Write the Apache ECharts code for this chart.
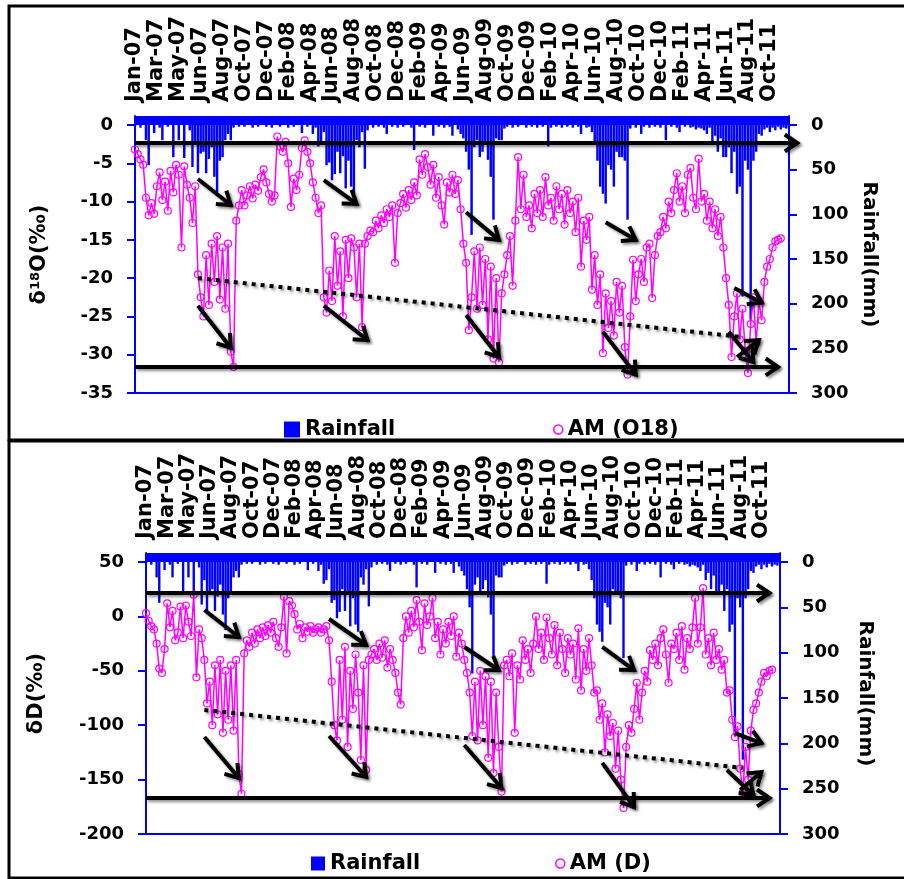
<!DOCTYPE html>
<html>
<head>
<meta charset="utf-8">
<script src="https://cdn.jsdelivr.net/npm/echarts@6.0.0/dist/echarts.min.js"></script>
<style>
  html, body { margin: 0; padding: 0; background: #fff; }
  #chart { width: 904px; height: 879px; }
</style>
</head>
<body>
<div id="chart"></div>
<script>
// every 8th sample gets one of these labels (top axis)
const tickLabels = ["Jan-07", "Mar-07", "May-07", "Jun-07", "Aug-07", "Oct-07", "Dec-07", "Feb-08", "Apr-08", "Jun-08",
  "Aug-08", "Oct-08", "Dec-08", "Feb-09", "Apr-09", "Jun-09", "Aug-09", "Oct-09", "Dec-09", "Feb-10",
  "Apr-10", "Jun-10", "Aug-10", "Oct-10", "Dec-10", "Feb-11", "Apr-11", "Jun-11", "Aug-11", "Oct-11"];

const o18Ticks = [-35, -30, -25, -20, -15, -10, -5, 0];
const dTicks = [-200, -150, -100, -50, 0, 50];
const rainTicks = [0, 50, 100, 150, 200, 250, 300];

// rainfall (mm), same record in both panels
const rainfall = [
  2, 0, 3, 0, 17, 45, 0, 9,        0, 3, 17, 0, 2, 0, 36, 0,
  17, 0, 37, 0, 6, 47, 20, 54,     32, 30, 54, 38, 25, 58, 75, 40,
  36, 17, 10, 17, 3, 0, 2, 0,      2, 0, 0, 3, 0, 2, 0, 0,
  2, 0, 3, 0, 0, 2, 0, 0,          3, 0, 2, 0, 0, 9, 0, 2,
  0, 10, 3, 24, 20, 8, 45, 42,     62, 55, 30, 54, 35, 71, 40, 69,
  77, 17, 25, 8, 49, 6, 0, 3,      0, 2, 0, 3, 10, 0, 2, 0,
  3, 0, 2, 0, 0, 3, 28, 0,         2, 0, 3, 0, 0, 12, 0, 2,
  0, 3, 0, 2, 12, 0, 5, 10,        15, 30, 50, 123, 25, 17, 36, 30,
  20, 39, 58, 106, 15, 17, 17, 4,  2, 0, 3, 0, 2, 0, 0, 3,
  0, 2, 0, 3, 0, 2, 0, 24,         3, 0, 2, 0, 3, 0, 2, 0,
  3, 0, 2, 10, 0, 3, 2, 8,         20, 40, 69, 77, 88, 45, 50, 69,
  30, 36, 36, 40, 106, 4, 0, 3,    0, 10, 2, 0, 3, 0, 2, 0,
  3, 0, 17, 0, 2, 0, 3, 8,         0, 2, 0, 3, 2, 5, 3, 4,
  6, 10, 3, 20, 12, 30, 15, 36,    36, 25, 54, 30, 77, 69, 192, 40,
  50, 218, 40, 30, 10, 12, 5, 3,   8, 3, 6, 2, 5, 3, 4, 2
];

// AM delta 18O (per mil)
const amO18 = [
  -3.2, -3.8, -4.5, -5.2, -9.5, -11.8, -10.2, -11.6,   -8.0, -6.2, -9.8, -7.4, -11.2, -6.0, -8.8, -5.2,
  -6.5, -16.0, -5.4, -7.8, -9.5, -12.8, -8.0, -19.5,   -22.5, -25.0, -17.0, -23.5, -15.5, -20.5, -14.5, -22.8,
  -16.0, -24.0, -15.5, -29.6, -31.6, -12.5, -10.5, -8.5, -10.5, -9.2, -8.0, -9.6, -7.8, -8.6, -6.8, -5.8,
  -7.5, -9.0, -10.0, -9.2, -1.5, -2.8, -3.5, -2.2,     -5.0, -10.7, -7.0, -8.5, -6.5, -3.0, -2.0, -3.5,
  -5.0, -7.5, -9.5, -11.5, -10.5, -22.5, -24.5, -19.0, -23.0, -14.5, -21.0, -16.5, -25.0, -15.0, -20.0, -14.8,
  -16.0, -22.5, -15.5, -26.4, -15.5, -14.5, -13.8, -14.0, -12.5, -13.5, -11.8, -12.8, -11.0, -12.0, -10.5, -18.0,
  -11.5, -10.2, -9.0, -10.8, -8.5, -9.8, -7.5, -9.2,   -4.5, -6.5, -3.8, -5.5, -7.8, -5.2, -9.5, -6.8,
  -10.5, -13.0, -7.5, -8.8, -6.5, -9.0, -7.2, -11.0,   -15.5, -18.0, -26.8, -22.5, -16.5, -24.0, -16.0, -23.5,
  -17.5, -28.0, -18.5, -30.5, -20.0, -31.0, -22.0, -19.5, -17.0, -14.5, -21.0, -12.5, -4.2, -11.0, -6.5, -12.0,
  -10.5, -13.5, -9.0, -11.5, -8.5, -12.0, -6.8, -10.5, -9.5, -12.5, -8.0, -11.0, -9.0, -13.0, -8.5, -11.5,
  -10.0, -14.0, -9.5, -18.5, -12.5, -15.0, -12.0, -21.5, -17.0, -23.5, -19.5, -29.8, -22.0, -26.5, -23.0, -27.5,
  -20.5, -24.5, -21.0, -29.0, -32.6, -25.0, -17.6, -23.0, -19.5, -17.5, -20.5, -16.0, -15.5, -22.6, -17.0, -14.5,
  -14.0, -12.0, -13.5, -10.0, -11.5, -8.5, -6.3, -10.0, -8.0, -11.5, -6.5, -5.6, -9.5, -11.0, -4.4, -10.0,
  -9.0, -12.5, -10.0, -13.5, -11.0, -14.5, -12.0, -16.0, -20.0, -23.5, -30.3, -25.0, -22.0, -28.0, -24.0, -29.5,
  -32.4, -26.0, -22.5, -28.5, -23.0, -25.5, -20.5, -18.5, -17.5, -16.0, -15.2, -15.0, -14.8, null, null, null
];

// AM delta D (per mil)
const amD = [
  3, -4, -9, -12, -25, -48, -52, -30,          12, -10, 5, -22, -15, 9, -20, 10,
  -5, -18, 20, -56, -12, -20, -40, -80,        -60, -100, -45, -90, -40, -107, -50, -95,
  -45, -105, -40, -145, -163, -34, -22, -28,   -15, -25, -12, -20, -10, -18, -8, -15,
  -5, -20, -28, -10, 18, -34, 14, 10,          2, -12, -7, -20, -10, -14, -9, -15,
  -12, -10, -15, -12, -9, -22, -60, -100,      -114, -40, -95, -28, -120, -50, -85, -35,
  -70, -132, -45, -141, -40, -35, -30, -40,    -25, -38, -22, -47, -30, -40, -52, -70,
  -81, -20, 0, -15, 5, -10, 15, -5,            -31, 12, -8, 0, 17, -20, -5, -35,
  -12, -25, -5, -18, 0, -37, -15, -25,         -40, -52, -70, -110, -60, -114, -50, -100,
  -55, -130, -60, -144, -70, -120, -161, -45,  -40, -55, -34, -107, -45, -58, -22, -40,
  -30, -52, -25, 0, -30, -15, -40, -1,         -20, -35, -8, -45, -15, -30, -52, -20,
  -35, -25, -58, -11, -68, -30, -50, -20,      -45, -70, -68, -95, -80, -125, -90, -110,
  -98, -140, -105, -150, -176, -120, -100, -107, -85, -61, -95, -70, -50, -60, -31, -40,
  -25, -45, -20, -12, -35, -61, -25, -30,      -15, -40, -9, -49, -20, -30, -10, 17,
  -25, -10, 26, -35, -20, -45, -15, -40,       -30, -49, -40, -70, -68, -95, -111, -101,
  -140, -162, -120, -150, -105, -86, -80, -70, -60, -52, -55, -50, -49, null, null, null
];

const samples = rainfall.map((_, i) => 'S' + i);

// hand drawn annotations, [sampleIndex, value] on the left axis of each panel
const arrowsO18 = [
  [[0, -2.35], [241.9, -2.35]],
  [[0, -31.6], [235, -31.6]],
  [[22.7, -7.05], [35.4, -10.45]],
  [[68.7, -7.2], [81.1, -10.3]],
  [[22.7, -23.6], [35.4, -29.1]],
  [[68.7, -23.6], [84.8, -28.1]],
  [[120.6, -11.4], [133.4, -15.0]],
  [[120.6, -24.8], [133.4, -30.3]],
  [[171.8, -12.7], [182.7, -15.0]],
  [[170.7, -27.0], [182.7, -32.6]],
  [[219.3, -21.3], [229.1, -23.2]],
  [[220.0, -30.3], [228.4, -28.1]],
  [[216.7, -27.0], [225.5, -30.95]]
];
const dottedO18 = [[23.0, -20.0], [222.2, -27.7]];

const arrowsD = [
  [[0, 21.5], [235.2, 21.5]],
  [[0, -166.9], [235.2, -166.9]],
  [[22.2, 5.9], [35.4, -18.9]],
  [[69.4, -2.4], [82.6, -26.3]],
  [[22.2, -110.8], [35.4, -148.5]],
  [[69.4, -109.9], [82.6, -147.6]],
  [[120.3, -28.1], [133.4, -49.3]],
  [[120.3, -118.2], [134.2, -157.7]],
  [[171.9, -28.1], [184.3, -49.3]],
  [[171.9, -134.7], [184.3, -175.2]],
  [[222.1, -107.2], [232.2, -116.4]],
  [[224.0, -159.6], [231.5, -143.0]],
  [[219.0, -141.2], [228.8, -164.2]]
];
const dottedD = [[22.2, -86.0], [225.1, -139.3]];

const FONT = 'DejaVu Sans';
const BLUE = '#0000FF';
const MAGENTA = '#FF00FF';

const chart = echarts.init(document.getElementById('chart'));

// panel geometry
const panels = [
  { left: 135, top: 116, width: 654, height: 277, yMin: -35, yMax: 1.175, ticks: o18Ticks,
    rainMin: -10.07, nameGap: 85, rainGap: 66,
    name: '{a|δ}{b|18}{a|O(‰)}', series: 'AM (O18)', values: amO18 },
  { left: 146, top: 553, width: 634, height: 281, yMin: -200, yMax: 58.27, ticks: dTicks,
    rainMin: -9.93, nameGap: 99, rainGap: 75,
    name: '{a|δD(‰)}', series: 'AM (D)', values: amD }
];

const numLabel = { color: '#000', fontFamily: FONT, fontWeight: 'bold', fontSize: 18 };
const nameRich = {
  a: { fontFamily: FONT, fontWeight: 'bold', fontSize: 21, color: '#000' },
  b: { fontFamily: FONT, fontWeight: 'bold', fontSize: 13, color: '#000', verticalAlign: 'top' }
};

const grid = [], xAxis = [], yAxis = [], series = [];
panels.forEach((p, g) => {
  grid.push({ left: p.left, top: p.top, width: p.width, height: p.height });
  xAxis.push({
    type: 'category', gridIndex: g, position: 'top', data: samples, boundaryGap: false,
    axisLine: { show: false }, axisTick: { show: false }, splitLine: { show: false },
    axisLabel: {
      interval: 7, rotate: 90, margin: 14,
      formatter: (v, idx) => tickLabels[idx / 8] || '',
      color: '#000', fontFamily: FONT, fontWeight: 'bold', fontSize: 21
    }
  });
  xAxis.push({
    type: 'category', gridIndex: g, position: 'bottom', data: samples, boundaryGap: false,
    axisLine: { show: true, onZero: false, lineStyle: { color: BLUE, width: 2 } },
    axisTick: { show: false }, axisLabel: { show: false }, splitLine: { show: false }
  });
  yAxis.push({
    type: 'value', gridIndex: g, position: 'left', min: p.yMin, max: p.yMax,
    axisLine: { show: true, lineStyle: { color: BLUE, width: 2 } },
    axisTick: { show: true, length: 8, customValues: p.ticks, lineStyle: { color: BLUE, width: 2 } },
    axisLabel: Object.assign({ customValues: p.ticks, margin: 22 }, numLabel),
    splitLine: { show: false },
    name: p.name, nameLocation: 'middle', nameRotate: 90, nameGap: p.nameGap,
    nameTextStyle: { rich: nameRich }
  });
  yAxis.push({
    type: 'value', gridIndex: g, position: 'right', inverse: true, min: p.rainMin, max: 300,
    axisLine: { show: true, lineStyle: { color: BLUE, width: 2 } },
    axisTick: { show: true, length: 8, customValues: rainTicks, lineStyle: { color: BLUE, width: 2 } },
    axisLabel: Object.assign({ customValues: rainTicks, margin: 22 }, numLabel),
    splitLine: { show: false },
    name: 'Rainfall(mm)', nameLocation: 'middle', nameRotate: -90, nameGap: p.rainGap,
    nameTextStyle: { fontFamily: FONT, fontWeight: 'bold', fontSize: 20, color: '#000' }
  });
  series.push({
    name: 'Rainfall', type: 'bar', xAxisIndex: 2 * g, yAxisIndex: 2 * g + 1,
    data: rainfall, barWidth: '90%', itemStyle: { color: BLUE },
    markArea: {
      silent: true, itemStyle: { color: BLUE, opacity: 1 },
      data: [[{ yAxis: p.rainMin }, { yAxis: 0 }]]
    }
  });
  series.push({
    name: p.series, type: 'line', xAxisIndex: 2 * g, yAxisIndex: 2 * g, z: 3,
    data: p.values, symbol: 'circle', symbolSize: 7, showAllSymbol: true,
    lineStyle: { color: MAGENTA, width: 1.5 },
    itemStyle: { color: 'rgba(0,0,0,0)', borderColor: MAGENTA, borderWidth: 1.2 }
  });
});

const legendText = { color: '#000', fontFamily: FONT, fontWeight: 'bold', fontSize: 21 };
const legend = [
  { left: 279, top: 414, itemWidth: 16, itemHeight: 16, textStyle: legendText, data: [{ name: 'Rainfall', icon: 'rect' }] },
  { left: 548, top: 414, itemWidth: 9, itemHeight: 9, textStyle: legendText,
    data: [{ name: 'AM (O18)', icon: 'circle', itemStyle: { color: '#fff', borderColor: MAGENTA, borderWidth: 1.5 } }] },
  { left: 306, top: 848, itemWidth: 14, itemHeight: 14, textStyle: legendText, data: [{ name: 'Rainfall', icon: 'rect' }] },
  { left: 550, top: 848, itemWidth: 9, itemHeight: 9, textStyle: legendText,
    data: [{ name: 'AM (D)', icon: 'circle', itemStyle: { color: '#fff', borderColor: MAGENTA, borderWidth: 1.5 } }] }
];

chart.setOption({
  animation: false,
  backgroundColor: '#fff',
  grid, xAxis, yAxis, series, legend
});

// annotations (arrows, dotted trend lines, panel frames)
const shadow = { shadowBlur: 3, shadowColor: 'rgba(0,0,0,0.45)', shadowOffsetX: 2, shadowOffsetY: 2 };
function toPx(g, pt) {
  return chart.convertToPixel({ xAxisIndex: 2 * g, yAxisIndex: 2 * g }, pt);
}
function arrow(p0, p1) {
  const ang = Math.atan2(p1[1] - p0[1], p1[0] - p0[0]);
  const L = 15, s = 0.6;
  const h1 = [p1[0] - L * Math.cos(ang - s), p1[1] - L * Math.sin(ang - s)];
  const h2 = [p1[0] - L * Math.cos(ang + s), p1[1] - L * Math.sin(ang + s)];
  return [
    { type: 'line', z: 100, shape: { x1: p0[0], y1: p0[1], x2: p1[0], y2: p1[1] },
      style: Object.assign({ stroke: '#000', lineWidth: 4 }, shadow) },
    { type: 'polyline', z: 100, shape: { points: [h1, p1, h2] },
      style: Object.assign({ stroke: '#000', lineWidth: 4, fill: null, lineJoin: 'miter' }, shadow) }
  ];
}
const graphics = [
  { type: 'rect', z: 100, shape: { x: 9, y: 6, width: 930, height: 434 }, style: { stroke: '#000', lineWidth: 3, fill: null } },
  { type: 'rect', z: 100, shape: { x: 9, y: 441, width: 930, height: 437 }, style: { stroke: '#000', lineWidth: 3, fill: null } }
];
[[arrowsO18, dottedO18], [arrowsD, dottedD]].forEach(([arrs, dot], g) => {
  arrs.forEach(a => graphics.push(...arrow(toPx(g, a[0]), toPx(g, a[1]))));
  const d0 = toPx(g, dot[0]), d1 = toPx(g, dot[1]);
  graphics.push({ type: 'line', z: 100, shape: { x1: d0[0], y1: d0[1], x2: d1[0], y2: d1[1] },
    style: Object.assign({ stroke: '#000', lineWidth: 4, lineDash: [4, 5] }, shadow) });
});
chart.setOption({ graphic: graphics });
</script>
</body>
</html>
